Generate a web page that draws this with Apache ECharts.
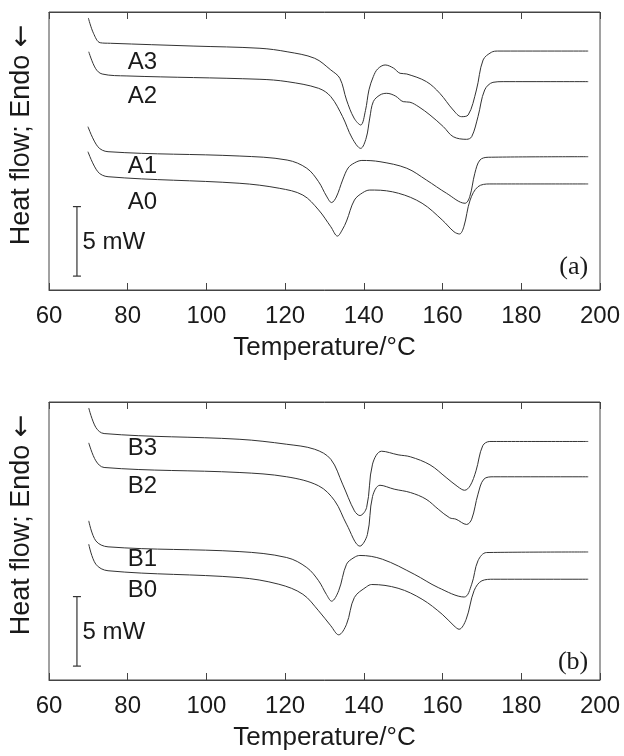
<!DOCTYPE html>
<html>
<head>
<meta charset="utf-8">
<title>DSC curves</title>
<script src="https://cdn.jsdelivr.net/npm/echarts@6/dist/echarts.min.js"></script>
<style>
  html, body { margin: 0; padding: 0; background: #fff; }
  #chart { width: 624px; height: 756px; }
</style>
</head>
<body>
<div id="chart"></div>
<script>
// temperature (°C), heat flow (mW, arbitrary offset)
const a3 = [[70.0,19.57],[71.3,18.47],[73.0,17.79],[75.6,17.75],[96.6,17.55],[113.6,17.39],[120.5,17.14],[127.5,16.67],[131.6,15.83],[133.9,15.23],[135.6,13.67],[137.5,12.37],[139.2,11.87],[140.4,12.9],[141.3,14.4],[142.4,15.35],[143.5,15.9],[145.4,16.19],[147.5,15.97],[149.2,15.59],[150.9,15.54],[155.9,14.99],[159.3,14.15],[162.7,12.95],[164.8,12.47],[166.5,12.59],[168.6,14.39],[170.3,16.55],[172.4,17.1],[174.0,17.19],[197,17.19]];
const a2 = [[70.1,17.14],[71.8,15.95],[73.5,15.54],[79.8,15.4],[113.6,15.16],[120.5,14.99],[128.5,14.51],[131.6,13.91],[134.6,12.47],[137.0,10.94],[139.2,10.19],[140.6,10.94],[141.5,12.37],[142.4,13.55],[144.1,14.03],[145.8,14.15],[148.0,13.96],[150.0,13.55],[151.7,13.51],[154.0,13.17],[156.8,12.59],[160.2,11.75],[162.7,11.03],[166.1,10.84],[167.4,11.03],[169.0,12.47],[170.7,14.39],[172.8,14.94],[175.4,14.99],[197,14.99]];
const a1 = [[69.9,11.75],[72.4,10.31],[75.0,9.95],[108.3,9.64],[120.5,9.35],[125.5,8.76],[128.5,7.79],[130.5,6.76],[131.8,6.29],[133.0,6.69],[134.6,7.91],[136.0,8.78],[137.6,9.14],[139.5,9.32],[144.1,9.23],[150.9,8.76],[155.9,7.91],[161.0,6.96],[165.7,6.24],[166.9,6.71],[168.2,8.4],[169.5,9.35],[171.6,9.55],[197,9.59]];
const a0 = [[69.9,9.95],[72.4,8.51],[75.0,8.15],[108.3,7.68],[118.5,7.32],[124.5,6.83],[128.5,5.76],[131.6,4.55],[133.3,3.88],[134.5,4.32],[135.6,4.96],[137.6,6.47],[139.7,7.0],[141.5,7.19],[142.7,7.19],[148.8,6.96],[154.8,6.24],[159.9,5.04],[162.9,4.19],[164.3,4.03],[165.4,4.55],[167.0,6.47],[169.0,7.43],[172.0,7.63],[197,7.63]];

const b3 = [[70.1,19.57],[71.9,18.17],[74.0,17.73],[108.3,17.32],[120.4,16.96],[127.5,16.6],[131.6,15.88],[134.6,14.09],[137.6,12.17],[139.0,11.83],[140.7,12.41],[142.2,15.53],[144.5,16.46],[148.7,16.2],[151.8,16.06],[156.8,15.48],[160.9,14.57],[163.9,13.9],[165.6,13.65],[167.0,13.97],[168.5,15.05],[170.2,16.85],[172.0,17.16],[197,17.16]];
const b2 = [[70.1,17.06],[71.9,15.77],[74.0,15.29],[108.3,14.93],[120.4,14.62],[128.5,13.97],[132.6,12.89],[135.6,11.21],[139.0,9.63],[140.9,10.47],[142.2,13.2],[144.1,14.01],[147.7,13.73],[151.8,13.49],[155.8,13.01],[158.9,12.29],[161.8,11.67],[163.4,11.57],[166.1,11.19],[167.4,11.57],[169.0,13.37],[170.5,14.45],[173.0,14.62],[197,14.62]];
const b1 = [[70.1,11.45],[71.9,10.01],[75.0,9.58],[108.3,9.24],[120.4,8.81],[125.5,8.09],[128.5,7.14],[130.5,6.15],[131.8,5.67],[133.6,6.42],[135.6,8.33],[137.5,8.81],[139.0,8.96],[144.7,8.69],[152.8,7.61],[158.9,6.65],[165.5,5.97],[167.4,6.89],[169.0,8.58],[171.2,9.17],[197,9.21]];
const b0 = [[70.1,9.77],[71.9,8.33],[75.0,7.86],[108.3,7.37],[118.4,6.89],[124.5,6.17],[128.5,4.98],[131.6,3.9],[133.6,3.25],[135.6,4.01],[137.6,5.94],[140.7,6.71],[142.0,6.87],[148.7,6.6],[154.8,5.81],[159.9,4.73],[162.9,3.9],[164.2,3.65],[166.0,4.37],[168.0,6.42],[170.0,7.14],[173.0,7.25],[197,7.25]];

const xTicks = [60, 80, 100, 120, 140, 160, 180, 200];
const labelsA = [['A3', 80, 16.4], ['A2', 80, 13.9], ['A1', 80, 8.9], ['A0', 80, 6.3]];
const labelsB = [['B3', 80, 16.65], ['B2', 80, 13.94], ['B1', 80, 8.67], ['B0', 80, 6.44]];
const scaleBar = [[67.1, 1.0], [67.1, 6.0]]; // 5 mW

const chart = echarts.init(document.getElementById('chart'));

const lineColor = '#333';
const sans = 'Liberation Sans, Arial, sans-serif';

function bottomAxis(gridIndex) {
  return {
    type: 'value', gridIndex: gridIndex, position: 'bottom',
    min: xTicks[0], max: xTicks[xTicks.length - 1], interval: 20,
    name: 'Temperature/°C', nameLocation: 'middle', nameGap: 45,
    nameTextStyle: { fontFamily: sans, fontSize: 26, color: '#1a1a1a' },
    axisLine: { show: true, lineStyle: { color: '#444', width: 1 } },
    axisTick: { show: true, inside: true, length: 7, lineStyle: { color: '#444' } },
    axisLabel: { fontFamily: sans, fontSize: 24, color: '#1a1a1a', margin: 14 },
    splitLine: { show: false }
  };
}

function topAxis(gridIndex) {
  return {
    type: 'value', gridIndex: gridIndex, position: 'top',
    min: xTicks[0], max: xTicks[xTicks.length - 1], interval: 20,
    axisLine: { show: true, lineStyle: { color: '#444', width: 1 } },
    axisTick: { show: true, inside: true, length: 7, lineStyle: { color: '#444' } },
    axisLabel: { show: false },
    splitLine: { show: false }
  };
}

function yAxis(gridIndex) {
  return { type: 'value', gridIndex: gridIndex, min: 0, max: 20, show: false };
}

function curve(data, axisIdx) {
  return {
    type: 'line', data: data, xAxisIndex: axisIdx * 2, yAxisIndex: axisIdx,
    smooth: 0.35, showSymbol: false, silent: true,
    lineStyle: { color: lineColor, width: 1 }
  };
}

function labels(list, axisIdx) {
  return {
    type: 'scatter', xAxisIndex: axisIdx * 2, yAxisIndex: axisIdx, symbolSize: 0, silent: true,
    itemStyle: { opacity: 1 },
    data: list.map(d => ({ name: d[0], value: [d[1], d[2]] })),
    label: { show: true, position: 'right', distance: 0, formatter: '{b}',
      fontFamily: sans, fontSize: 24, color: '#1a1a1a' }
  };
}

function bar(axisIdx) {
  return {
    type: 'line', data: scaleBar, xAxisIndex: axisIdx * 2, yAxisIndex: axisIdx, silent: true,
    symbol: 'rect', symbolSize: [8, 1.2], showSymbol: true,
    itemStyle: { color: '#333' }, lineStyle: { color: '#333', width: 1.2 },
    markPoint: {
      symbol: 'rect', symbolSize: 0,
      data: [{ coord: [68.5, 3.45], value: '5 mW' }],
      label: { show: true, position: 'right', distance: 0, formatter: '5 mW',
        fontFamily: sans, fontSize: 24, color: '#1a1a1a' }
    }
  };
}

function panelTag(text, axisIdx, v) {
  return {
    type: 'scatter', xAxisIndex: axisIdx * 2, yAxisIndex: axisIdx, symbolSize: 0, silent: true,
    itemStyle: { opacity: 1 },
    data: [{ name: text, value: [197, v] }],
    label: { show: true, position: 'left', distance: 0, formatter: '{b}',
      fontFamily: 'Liberation Serif, Times New Roman, serif', fontSize: 26, color: '#1a1a1a' }
  };
}

function yTitle(cy) {
  return {
    type: 'text', x: 22, y: cy, rotation: Math.PI / 2,
    style: {
      text: 'Heat flow; Endo {arr|←}', fontFamily: sans, fontSize: 27, fill: '#1a1a1a',
      textAlign: 'center', textVerticalAlign: 'middle',
      rich: { arr: { fontFamily: 'DejaVu Sans', fontSize: 27, fill: '#1a1a1a' } }
    }
  };
}

const option = {
  animation: false,
  backgroundColor: '#fff',
  grid: [
    { left: 49, top: 12, width: 551, height: 278, show: true, borderColor: '#444', borderWidth: 1 },
    { left: 49, top: 402, width: 551, height: 278, show: true, borderColor: '#444', borderWidth: 1 }
  ],
  xAxis: [bottomAxis(0), topAxis(0), bottomAxis(1), topAxis(1)],
  yAxis: [yAxis(0), yAxis(1)],
  graphic: [yTitle(135), yTitle(525)],
  series: [
    curve(a3, 0), curve(a2, 0), curve(a1, 0), curve(a0, 0),
    curve(b3, 1), curve(b2, 1), curve(b1, 1), curve(b0, 1),
    labels(labelsA, 0), labels(labelsB, 1),
    bar(0), bar(1),
    panelTag('(a)', 0, 1.65), panelTag('(b)', 1, 1.26)
  ]
};

chart.setOption(option);
</script>
</body>
</html>
